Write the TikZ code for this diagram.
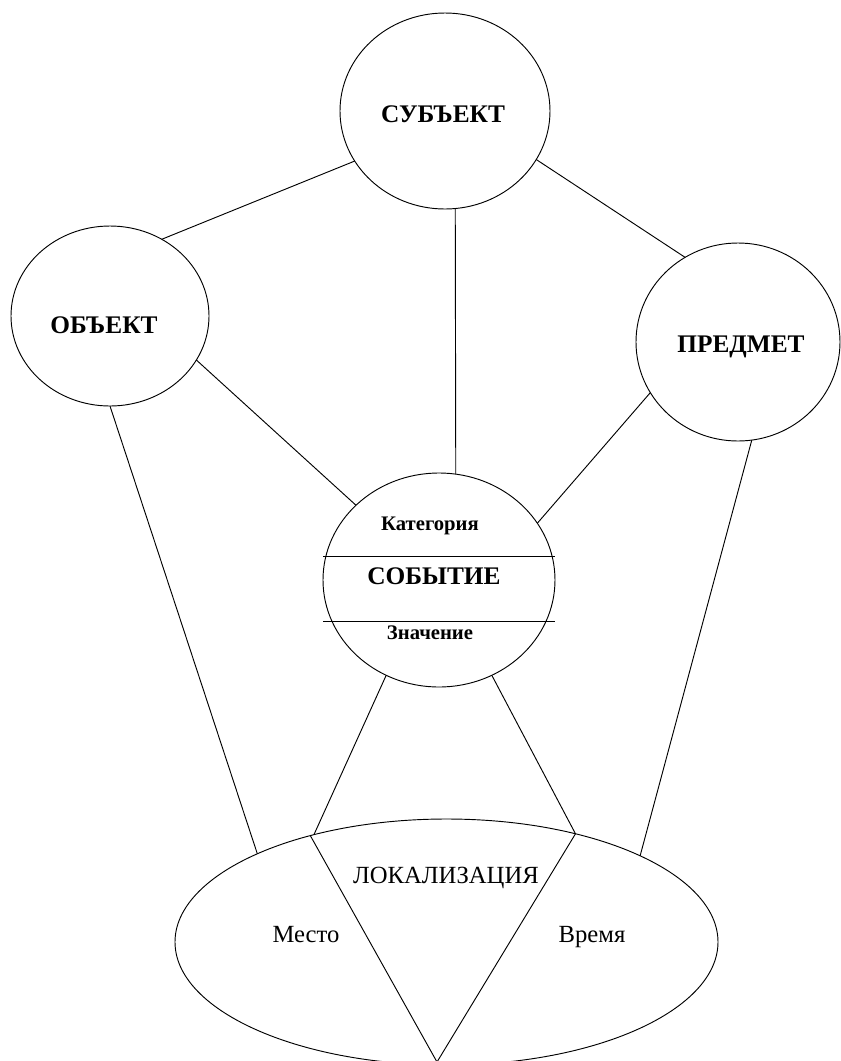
\documentclass[tikz,border=0pt]{standalone}
\usepackage{fontspec}
\setmainfont{LiberationSerif}[Extension=.ttf, UprightFont=*-Regular, BoldFont=*-Bold]
\usetikzlibrary{shapes.geometric}
\begin{document}
\begin{tikzpicture}[x=0.75pt, y=-0.75pt, line width=0.7pt,
  bubble/.style={ellipse, draw, inner sep=0pt, outer sep=0pt},
  bigtxt/.style={anchor=base, font=\fontsize{19}{22}\selectfont\bfseries},
  smalltxt/.style={anchor=base, font=\fontsize{15.5}{18}\selectfont\bfseries},
  plaintxt/.style={anchor=base, font=\fontsize{18.5}{22}\selectfont}]
\useasboundingbox (0,0) rectangle (840,1061);

\node[bubble, minimum width=157.5pt, minimum height=147pt] (sub) at (445,111) {};
\node[bubble, minimum width=148.5pt, minimum height=135pt] (obj) at (110,316) {};
\node[bubble, minimum width=153pt, minimum height=148.5pt] (pred) at (738,342) {};
\node[bubble, minimum width=174pt, minimum height=160.5pt] (sob) at (439,580) {};
\node[bubble, minimum width=407.25pt, minimum height=184.5pt] (lok) at (446.5,942) {};
\coordinate (tip) at (437,1062);

\node[bigtxt] (sub-t) at (443,122) {СУБЪЕКТ};
\node[bigtxt] (obj-t) at (104,333) {ОБЪЕКТ};
\node[bigtxt] (pred-t) at (741,352) {ПРЕДМЕТ};
\node[bigtxt] (sob-t) at (434,584) {СОБЫТИЕ};
\node[smalltxt] (cat) at (430,530) {Категория};
\node[smalltxt] (val) at (430,639) {Значение};
\node[plaintxt] (lok-t) at (446,883) {ЛОКАЛИЗАЦИЯ};
\node[plaintxt] (place) at (306,942) {Место};
\node[plaintxt] (time) at (592,942) {Время};

% bands of the event
\draw (323,556) -- (555,556);
\draw (323,621) -- (555,621);
% place / time split
\draw (lok.142.5) -- (tip) -- (lok.40.7);

\path (sub.209) edge (obj.56.5);
\path (sub.-28.5) edge (pred.122);
\path (sub.-84) edge (sob.81.5);
\path (obj.-27) edge (sob.138);
\path (pred.210) edge (sob.30.6);
\path (obj.-90) edge (lok.155);
\path (pred.-82.5) edge (lok.24.8);
\path (sob.-119) edge (lok.141);
\path (sob.-61.7) edge (lok.40.1);
\end{tikzpicture}
\end{document}
